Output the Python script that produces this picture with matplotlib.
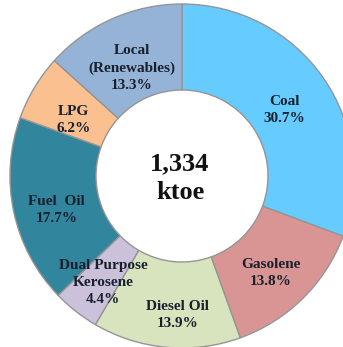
import numpy as np
import matplotlib.pyplot as plt

# Energy mix shares (%), clockwise from the top
names = ["Coal", "Gasolene", "Diesel Oil", "Dual Purpose\nKerosene",
         "Fuel  Oil", "LPG", "Local\n(Renewables)"]
shares = [30.7, 13.8, 13.9, 4.4, 17.7, 6.2, 13.3]
colors = ["#66CCFF", "#D99594", "#D7E4BD", "#CCC1DA",
          "#31859C", "#FAC090", "#95B3D7"]
total_text = "1,334\nktoe"

labels = [f"{n}\n{s:.1f}%" for n, s in zip(names, shares)]

# small nudges (px) for the label positions
nudges = [(-4, -8), (-2, -5), (7, -11), (1, -5), (1, -7), (2, -10), (2, -10)]

plt.rcParams['font.family'] = ['Liberation Serif', 'DejaVu Serif']

fig = plt.figure(figsize=(3.43, 3.47), dpi=100)
ax = fig.add_axes([0, 0, 1, 1])

R = 172
wedges, texts = ax.pie(shares, colors=colors, labels=labels,
                       startangle=90, counterclock=False,
                       center=(182, 171), radius=R,
                       labeldistance=0.75,
                       wedgeprops=dict(width=86, edgecolor="#959595", linewidth=1.0),
                       textprops=dict(fontsize=11, fontweight="bold", color="#18202e",
                                      linespacing=1.4))
for t, (dx, dy) in zip(texts, nudges):
    t.set_ha("center")
    t.set_va("center")
    x, y = t.get_position()
    t.set_position((x + dx, y + dy))

ax.text(180, 169, total_text, ha="center", va="center", fontsize=19,
        fontweight="bold", color="#111111", linespacing=1.3)

ax.set_xlim(0, 343)
ax.set_ylim(0, 347)
ax.axis("off")

fig.savefig("out.png", dpi=100)
